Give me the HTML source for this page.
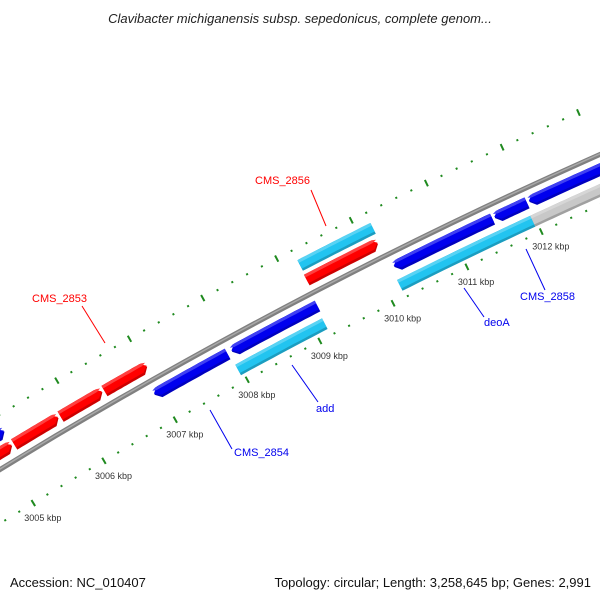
<!DOCTYPE html>
<html><head><meta charset="utf-8"><style>
html,body{margin:0;padding:0;background:#fff;}
svg{display:block;font-family:"Liberation Sans",sans-serif;}
</style></head><body>
<svg id="map" width="600" height="600" viewBox="0 0 600 600">
<text x="300" y="23" text-anchor="middle" font-size="13" font-style="italic" fill="#222">Clavibacter michiganensis subsp. sepedonicus, complete genom...</text>
<g id="ticks"></g>
<g id="backbone"></g>
<g id="features"></g>
<g id="labels"></g>
<text x="10" y="587" font-size="13" fill="#111">Accession: NC_010407</text>
<text x="591" y="587" text-anchor="end" font-size="13" fill="#111">Topology: circular; Length: 3,258,645 bp; Genes: 2,991</text>
</svg>
<script>
// data (kbp)
const tickKbp = [3005, 3006, 3007, 3008, 3009, 3010, 3011, 3012];
const featStart = [3004.5, 3005.17, 3005.82, 3006.43, 3004.8, 3009.21, 3009.20, 3006.93, 3008.00, 3010.21, 3011.56, 3012.02, 3007.96, 3010.17, 3011.96];
const featEnd   = [3005.14, 3005.79, 3006.40, 3007.02, 3005.15, 3010.19, 3010.16, 3007.94, 3009.17, 3011.53, 3011.99, 3013.2, 3009.15, 3011.96, 3013.2];
const featStrand= [1,1,1,1,1,0,1,-1,-1,-1,-1,-1,0,0,0];
const featLane  = [2,2,2,2,1,1,2,3,3,3,3,3,4,4,4];
const featColor = ['#ff0000','#ff0000','#ff0000','#ff0000','#0000ee','#22c4f0','#ff0000','#0000ee','#0000ee','#0000ee','#0000ee','#0000ee','#22c4f0','#22c4f0','#c8c8c8'];
const labelText = ['CMS_2856','CMS_2853','CMS_2854','add','deoA','CMS_2858'];
const labelKbp  = [3009.8, 3006.2, 3007.5, 3008.6, 3010.9, 3011.8];
const labelColor= ['#ff0000','#ff0000','#0000ee','#0000ee','#0000ee','#0000ee'];

const NS='http://www.w3.org/2000/svg';
const CX=2708, CY=4897, R0=5190;
const laneR=[0,5220,5204,5176,5157];
function ang(k){return (-121.33+0.917*(k-3005))*Math.PI/180;}
function pt(k,r){const a=ang(k);return [CX+r*Math.cos(a),CY+r*Math.sin(a)];}
function mk(tag,attrs,parent){const e=document.createElementNS(NS,tag);for(const k in attrs)e.setAttribute(k,attrs[k]);parent.appendChild(e);return e;}
function arcPath(k1,k2,r){let d='';const n=20;for(let i=0;i<=n;i++){const p=pt(k1+(k2-k1)*i/n,r);d+=(i?'L':'M')+p[0].toFixed(1)+' '+p[1].toFixed(1);}return d;}

// backbone
const bb=document.getElementById('backbone');
let e=mk('path',{d:arcPath(3004.3,3013.3,R0),fill:'none',stroke:'#808080','stroke-width':5},bb);

e=mk('path',{d:arcPath(3004.3,3013.3,R0+0.5),fill:'none',stroke:'#a8a8a8','stroke-width':1.5},bb);


// ticks
const tg=document.getElementById('ticks');
[5144,5237].forEach((r,ri)=>{
  for(let k=3004.2;k<=3013.01;k+=0.2){
    const kk=Math.round(k*5)/5;
    const major=Math.abs(kk-Math.round(kk))<1e-6;
    const h=major?3.5:1;
    const a=pt(kk,r-h),b=pt(kk,r+h);
    const t=mk('line',{x1:a[0],y1:a[1],x2:b[0],y2:b[1],stroke:'#1f8a1f','stroke-width':major?2:2},tg);
    
    
  }
});
tickKbp.forEach(k=>{
  const p=pt(k,5144);
  const t=mk('text',{x:(p[0]-9).toFixed(1),y:(p[1]+18).toFixed(1),'font-size':9,fill:'#333'},tg);
  t.textContent=k+' kbp';
  
  
});

// features
const fg=document.getElementById('features');
function shade(c,f){const n=parseInt(c.slice(1),16);let r=n>>16,g=(n>>8)&255,b=n&255;
  const m=v=>Math.max(0,Math.min(255,Math.round(f>0?v+(255-v)*f:v*(1+f))));
  return 'rgb('+m(r)+','+m(g)+','+m(b)+')';}
function shape(k1,k2,r1,r2,strand,headK){
  const rm=(r1+r2)/2;const n=16;let pts=[];
  let a=k1,b=k2;
  if(strand===1)b=k2-headK; if(strand===-1)a=k1+headK;
  for(let i=0;i<=n;i++)pts.push(pt(a+(b-a)*i/n,r2));
  if(strand===1)pts.push(pt(k2,rm));
  for(let i=n;i>=0;i--)pts.push(pt(a+(b-a)*i/n,r1));
  if(strand===-1)pts.push(pt(k1,rm));
  return 'M'+pts.map(p=>p[0].toFixed(1)+' '+p[1].toFixed(1)).join('L')+'Z';
}
for(let i=0;i<featStart.length;i++){
  const r=laneR[featLane[i]],h=6;
  const g=mk('g',{},fg);
  
  
  mk('path',{d:shape(featStart[i],featEnd[i],r-h,r+h,featStrand[i],0.07),fill:shade(featColor[i],-0.2)},g);
  mk('path',{d:shape(featStart[i],featEnd[i],r-h+2.5,r+h,featStrand[i],0.07),fill:featColor[i]},g);
  mk('path',{d:shape(featStart[i],featEnd[i],r+h-3,r+h,featStrand[i],0.05),fill:shade(featColor[i],0.25)},g);
}

// labels
const lg=document.getElementById('labels');
const labPos=[[255,184,311,190,326,226],[32,302,82,306,105,343],[234,456,210,410,232,449],[316,412,292,365,318,402],[484,326,464,288,484,317],[520,300,526,249,545,290]];
labelText.forEach((s,i)=>{
  const L=labPos[i];
  const ln=mk('line',{x1:L[2],y1:L[3],x2:L[4],y2:L[5],stroke:labelColor[i],'stroke-width':1},lg);
  
  
  const t=mk('text',{x:L[0],y:L[1],'font-size':11,fill:labelColor[i]},lg);
  t.textContent=s;
  
  
});
</script>
</body></html>
